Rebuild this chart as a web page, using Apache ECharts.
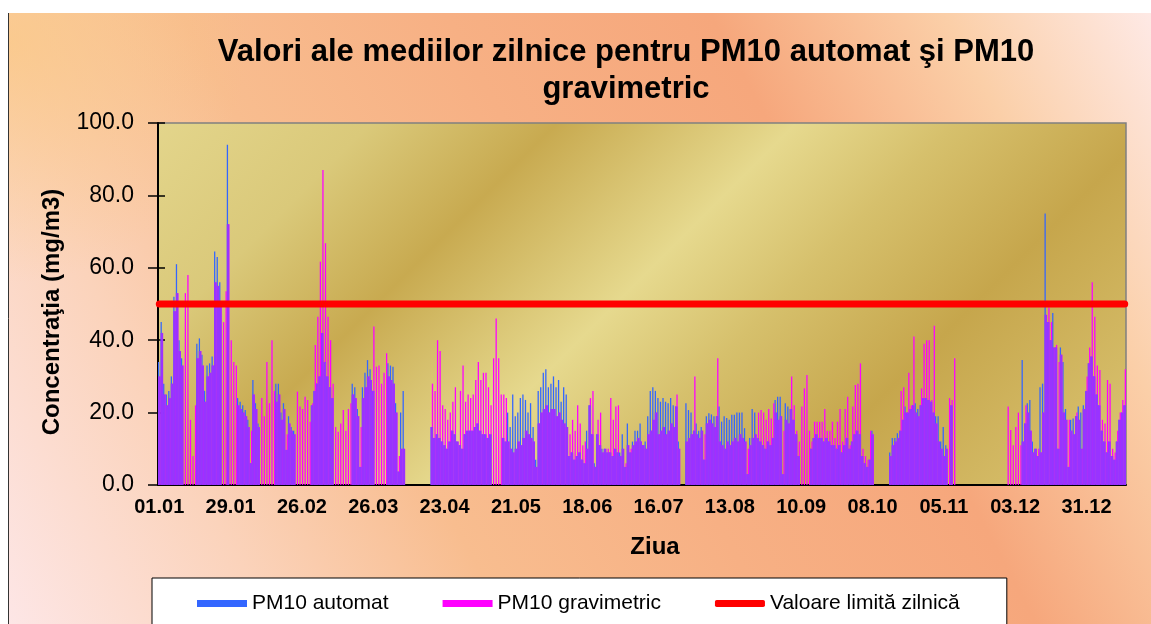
<!doctype html>
<html>
<head>
<meta charset="UTF-8">
<title>Valori ale mediilor zilnice PM10</title>
<script src="https://cdn.jsdelivr.net/npm/echarts@6.0.0/dist/echarts.min.js"></script>
<style>
  html, body { margin: 0; padding: 0; background: #fff; }
  #main { width: 1151px; height: 624px; }
</style>
</head>
<body>
<div id="main"></div>
<script type="text/javascript">
// date (mg/m3), o valoare pe zi; _ = lipsa date
var _ = null;

var automat = [
  34,45,28,25,26,30,52,61,40,35,
  _,_,_,_,_,39,40.5,36,26,33,
  33.6,35.5,64.5,63,56,_,_,94,
  _,
  _,_,24,23,22,20.7,18,6,29,22.6,
  17,_,_,_,_,_,_,28,28,20,
  22.6,9.7,19,16,15,_,_,_,_,_,
  _,22,26,28,30,42,34,30,27,24,
  _,
  _,_,_,_,_,_,28,27,21,5,
  27,31,34.5,32,26,_,_,_,_,_,33.6,
  33,
  32.7,22.6,3.7,20,26,
  _,_,_,_,_,_,_,_,_,_,
  16,13,14,13,12,11,10,12,15,14,
  12,11,10,14,15,
  15,
  15,16,17,15,14,14,13,14,_,_,
  _,_,13,12,20,16,25,19,20,24,
  25,23.5,20,22.6,16,7,26,27,31,32,27,
  28,
  30,27,29,23,27,25,8,9,7,8,
  9,7,6,15,22,14,6,14,11,10,
  10,9,9,8,10,9,9,14,5,17,9,
  12,
  15,15,17,11,12,19,26,27,26,24,
  23,24,23,22.6,24,22,21.7,12,_,_,
  22.6,20.7,20,15,17,15,16,7,19,19.8,
  19.5,
  19,19,21.7,17.5,19,18.5,18,19.4,19.4,20,
  20,20,15.7,3,13,21,20,13,12,11,
  10,12,11,13,23.5,24.4,24.4,3,22.6,21.7,21,
  18,
  14,8,_,_,_,_,10,13,14,13,
  13,12,13,12,11,11,10,11,9,11,
  13,10,12,14,15,14,8,6,5,7,15,
  _,_,_,_,_,_,
  9,13,13,14.3,15,18,21.7,20,21,22,
  22.6,21,22,24,24,23.5,23,20,19,19,
  12,16,11,_,22,_,
  _,_,_,_,_,_,_,_,_,_,
  _,_,_,_,_,_,_,_,_,_,
  _,_,_,_,_,_,34.5,17,22.6,23.5,12,
  10,
  8,27,28,75,45,40,47.5,38,10,38,
  34,21,5,18,18.4,19,21.7,20,22,26,
  33.6,35.5,30,25,22,15,12,9,12,8,7,
  12,
  18,20,22
];

var gravimetric = [
  30,42,25,22,24,28,48,53,37,33,
  53,58,18,8,22,35,37,33,23,30,
  31,33,56,55,50,45,53.5,72,
  40,
  34,33,22,21,20,19,16,15,25,21,
  16,24,19,34,22.6,40,26,23,25,18,
  21,14,17,15,14,25.8,21.7,21,24.4,23.5,
  17.5,22.6,38.7,46.5,61.7,87,66.8,46.5,40,28,
  16,
  14.7,17,20.7,15,21,22.6,25,24,19,16,
  24,27,30,29,43.8,32.7,33,28,31,36.4,30,
  29,
  28,20,8,10,10,
  _,_,_,_,_,_,_,_,_,_,
  28,26,40,37,22,21,18,20,23,27,
  12,26,33,23,25,
  24,
  25,29,34,29,31,31,27,22,35,46,
  35,25,25,24,12,10,9,10,12,11,
  13,15,14,13,12,5,17,20,21,22,20,
  21,
  21,19,20,18,17,16,14,18,15,22,
  17,11,12,10,24,26,5,18,20,9,
  10,10,24,18,21.7,22,8,10,6,11,10,
  11,
  12,13,12,11,10,14,15,18,20,14,
  15,16,14,15,17,16,25,10,_,_,
  12,13,14,30,14,13,15,14,17,18,
  17,
  16,35,12,11,10,12,11,12,13,12,
  14,13,12,10,11,13,14,20,20.7,20,
  18,21,18.4,22.6,20,18,19,15,18,17,30,
  22,
  15,12,21.7,26.7,30.4,15,12,17.5,17.5,17.5,
  17.5,21,15,15,17.5,13,17.5,21,12,21,
  24.4,11,21.7,27.6,28,33.6,10,8,7,15,14,
  _,_,_,_,_,_,
  8,11,12,13,26,27,20,31,22,41,
  20,19,26.7,39,40,40,23.5,44,17,12,
  10,8,10,24,23.5,35,
  _,_,_,_,_,_,_,_,_,_,
  _,_,_,_,_,_,_,_,_,_,
  21.7,15.2,11,16,20,11,12,22,20,15,9,
  10,
  10,9,20,47,49,45,38,38.7,34,36,
  20,18,18,15,14,20,18,10,21,30,
  38,56,46.5,33,31.8,18,17,29,28,10,9,
  15,
  20,23.5,32
];

var valoareLimita = 50;
var numeSerii = ['PM10 automat', 'PM10 gravimetric', 'Valoare limită zilnică'];
var lungimeLuni = [31, 28, 31, 30, 31, 30, 31, 31, 30, 31, 30, 31];
var pasEtichete = 28;

// zilele de pe axa X (dd.mm), incepand cu 01.01
function doua(n) { return (n < 10 ? '0' : '') + n; }
var zile = [];
for (var m = 0; zile.length < automat.length; m = (m + 1) % 12) {
  for (var d = 1; d <= lungimeLuni[m] && zile.length < automat.length; d++) {
    zile.push(doua(d) + '.' + doua(m + 1));
  }
}
var limita = zile.map(function () { return valoareLimita; });

function perechi(arr) {
  return arr.map(function (v, i) { return [i, v == null ? '-' : v]; });
}

var albastru = '#3366ff';
var magenta = '#ff00ff';
var violet = '#9933ff';   // cum arata cele doua coloane inguste amestecate

// coloana "automat": jumatatea din stanga a zilei
function baraAutomat(params, api) {
  var i = api.value(0), a = api.value(1);
  if (isNaN(a)) return;
  var latime = api.size([1, 0])[0];
  var baza = api.coord([i, 0]);
  var varf = api.coord([i, a]);
  return {
    type: 'rect',
    shape: { x: baza[0] - latime / 2, y: varf[1], width: latime / 2, height: baza[1] - varf[1] },
    style: { fill: api.visual('color') }
  };
}

// coloana "gravimetric": jumatatea din dreapta; unde exista ambele valori, partea comuna apare violet
function baraGravimetric(params, api) {
  var i = api.value(0), g = api.value(1);
  if (isNaN(g)) return;
  var latime = api.size([1, 0])[0];
  var baza = api.coord([i, 0]);
  var varf = api.coord([i, g]);
  var copii = [{
    type: 'rect',
    shape: { x: baza[0], y: varf[1], width: latime / 2, height: baza[1] - varf[1] },
    style: { fill: api.visual('color') }
  }];
  var a = automat[i];
  if (a != null) {
    var comun = api.coord([i, Math.min(a, g)]);
    copii.push({
      type: 'rect',
      shape: { x: baza[0] - latime / 2, y: comun[1], width: latime, height: baza[1] - comun[1] },
      style: { fill: violet }
    });
  }
  return { type: 'group', children: copii };
}

var font = 'Liberation Sans, Arial, sans-serif';
var myChart = echarts.init(document.getElementById('main'));

var option = {
  animation: false,
  textStyle: { fontFamily: font },
  graphic: [
    {
      type: 'rect', z: -10, silent: true,
      shape: { x: 8, y: 13, width: 1143, height: 611 },
      style: {
        fill: {
          type: 'linear', x: 0, y: 1, x2: 1, y2: 0,
          colorStops: [
            { offset: 0, color: '#fde6e6' },
            { offset: 0.18, color: '#fbd3bb' },
            { offset: 0.34, color: '#f8bd8f' },
            { offset: 0.52, color: '#f7b084' },
            { offset: 0.7, color: '#f6a77c' },
            { offset: 0.86, color: '#fbcfa8' },
            { offset: 1, color: '#fee9e5' }
          ]
        }
      }
    },
    {
      type: 'rect', z: -9, silent: true,
      shape: { x: 8, y: 13, width: 400, height: 300 },
      style: {
        fill: {
          type: 'radial', x: 0, y: 0.1, r: 0.8,
          colorStops: [
            { offset: 0, color: 'rgba(250,200,128,0.7)' },
            { offset: 1, color: 'rgba(250,200,128,0)' }
          ]
        }
      }
    },
    {
      type: 'line', z: -8, silent: true,
      shape: { x1: 8.5, y1: 13, x2: 8.5, y2: 624 },
      style: { stroke: '#333', lineWidth: 1 }
    }
  ],
  title: {
    text: 'Valori ale mediilor zilnice pentru PM10 automat şi PM10\ngravimetric',
    left: 621,
    top: 29,
    textAlign: 'center',
    textStyle: { fontSize: 31, fontWeight: 'bold', color: '#000', lineHeight: 37, fontFamily: font }
  },
  legend: {
    left: 152,
    top: 578,
    padding: [15, 47, 30, 45],
    itemWidth: 50,
    itemHeight: 7,
    itemGap: 54,
    backgroundColor: '#fff',
    borderColor: '#000',
    borderWidth: 1,
    textStyle: { fontSize: 21, color: '#000', fontFamily: font },
    data: [
      { name: numeSerii[0], icon: 'rect' },
      { name: numeSerii[1], icon: 'rect' },
      { name: numeSerii[2], icon: 'roundRect' }
    ]
  },
  grid: {
    left: 158, right: 25, top: 123, bottom: 139,
    show: true,
    borderColor: '#808080',
    borderWidth: 1.5,
    backgroundColor: {
      type: 'linear', x: 158, y: 123, x2: 823, y2: 788, global: true,
      colorStops: [
        { offset: 0, color: '#e3d58b' },
        { offset: 0.16, color: '#dac97a' },
        { offset: 0.3, color: '#c8aa50' },
        { offset: 0.48, color: '#e6d98e' },
        { offset: 0.6, color: '#d6c06c' },
        { offset: 0.75, color: '#c6a64c' },
        { offset: 0.9, color: '#d3b964' },
        { offset: 1, color: '#dcc676' }
      ]
    }
  },
  xAxis: {
    type: 'category',
    data: zile,
    name: 'Ziua',
    nameLocation: 'middle',
    nameGap: 50,
    nameTextStyle: { fontSize: 24, fontWeight: 'bold', color: '#000', padding: [0, 0, 0, 26] },
    axisLine: { lineStyle: { color: '#000', width: 2 } },
    axisTick: { show: false },
    axisLabel: {
      interval: pasEtichete - 1,
      fontSize: 20, fontWeight: 'bold', color: '#000', margin: 12
    },
    splitLine: { show: false }
  },
  yAxis: [
    {
      type: 'value',
      min: 0, max: 100, interval: 20,
      name: 'Concentraţia (mg/m3)',
      nameLocation: 'middle',
      nameRotate: 90,
      nameGap: 94,
      nameTextStyle: { fontSize: 24, fontWeight: 'bold', color: '#000', padding: [0, 16, 0, 0] },
      axisLine: { show: true, lineStyle: { color: '#000', width: 2 } },
      axisTick: { show: true, length: 10, lineStyle: { color: '#000', width: 1.5 } },
      axisLabel: {
        fontSize: 23, color: '#000', margin: 24,
        formatter: function (v) { return v.toFixed(1); }
      },
      splitLine: { show: false }
    },
    {
      // liniutele spre interior (tick "cross")
      type: 'value',
      min: 0, max: 100, interval: 20,
      position: 'left',
      axisLine: { show: false },
      axisTick: { show: true, inside: true, length: 7, lineStyle: { color: '#000', width: 1.5 } },
      axisLabel: { show: false },
      splitLine: { show: false }
    }
  ],
  series: [
    {
      name: numeSerii[0],
      type: 'custom',
      renderItem: baraAutomat,
      encode: { x: 0, y: 1 },
      data: perechi(automat),
      clip: true,
      itemStyle: { color: albastru }
    },
    {
      name: numeSerii[1],
      type: 'custom',
      renderItem: baraGravimetric,
      encode: { x: 0, y: 1 },
      data: perechi(gravimetric),
      clip: true,
      itemStyle: { color: magenta }
    },
    {
      name: numeSerii[2],
      type: 'line',
      data: limita,
      symbol: 'none',
      z: 5,
      color: '#ff0000',
      itemStyle: { color: '#ff0000' },
      lineStyle: { color: '#ff0000', width: 7, cap: 'round' }
    }
  ]
};

myChart.setOption(option);
</script>
</body>
</html>
